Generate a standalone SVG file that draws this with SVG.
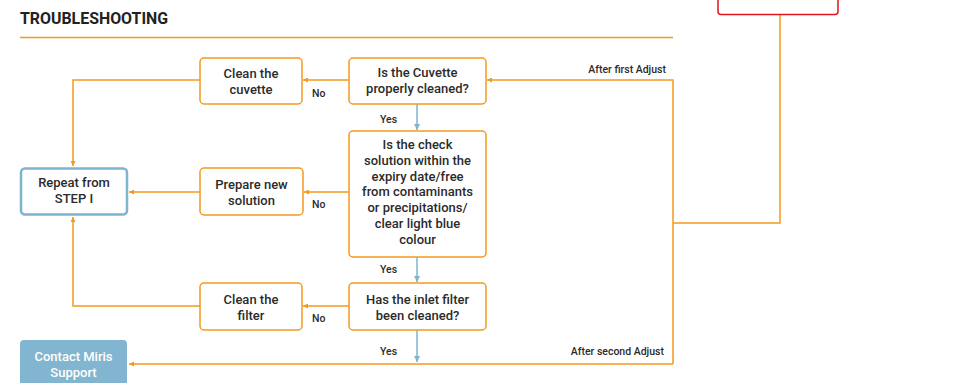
<svg xmlns="http://www.w3.org/2000/svg" width="964" height="383" viewBox="0 0 964 383">
<style>
.box{fill:#fff;stroke:#f39a1e;stroke-width:1.5}
.blue{fill:#fff;stroke:#7fb4cf;stroke-width:2.5}
.t{font-family:Roboto,"Liberation Sans",sans-serif;font-weight:500;font-size:13px;fill:#2b2b2b;text-anchor:middle}
.tw{font-family:Roboto,"Liberation Sans",sans-serif;font-weight:500;font-size:13px;fill:#fff;text-anchor:middle}
.lb{font-family:Roboto,"Liberation Sans",sans-serif;font-weight:500;font-size:10.5px;fill:#2b2b2b}
.o{fill:none;stroke:#f39a1e;stroke-width:1.5}
.b{fill:none;stroke:#7fb4cf;stroke-width:1.5}
</style>
<defs>
<marker id="ao" viewBox="0 0 10 10" refX="10" refY="5" markerWidth="5" markerHeight="5" orient="auto" markerUnits="userSpaceOnUse"><path d="M0,0 L10,5 L0,10 z" fill="#f39a1e"/></marker>
<marker id="ab" viewBox="0 0 10 10" refX="10" refY="5" markerWidth="6" markerHeight="6" orient="auto" markerUnits="userSpaceOnUse"><path d="M0,0 L10,5 L0,10 z" fill="#7fb4cf"/></marker>
</defs>
<rect width="964" height="383" fill="#fff"/>
<text x="20" y="24" font-family="Roboto,'Liberation Sans',sans-serif" font-weight="700" font-size="15.9" fill="#222">TROUBLESHOOTING</text>
<line x1="20" y1="37.5" x2="673" y2="37.5" stroke="#f39a1e" stroke-width="1.3"/>

<g id="connectors">
<path class="o" d="M349,80 H303" marker-end="url(#ao)"/>
<path class="o" d="M200,80 H73 V166" marker-end="url(#ao)"/>
<path class="o" d="M349,192 H304" marker-end="url(#ao)"/>
<path class="o" d="M200,192 H129" marker-end="url(#ao)"/>
<path class="o" d="M349,306 H303" marker-end="url(#ao)"/>
<path class="o" d="M200,306 H73 V217" marker-end="url(#ao)"/>
<path class="o" d="M673,364 V80 H487" marker-end="url(#ao)"/>
<path class="o" d="M673,364 H129" marker-end="url(#ao)"/>
<path class="o" d="M780,15 V223 H673"/>
<path class="b" d="M417,104 V130" marker-end="url(#ab)"/>
<path class="b" d="M417,257 V282" marker-end="url(#ab)"/>
<path class="b" d="M417,330 V362" marker-end="url(#ab)"/>
<text class="lb" x="312" y="97">No</text>
<text class="lb" x="312" y="208">No</text>
<text class="lb" x="312" y="322">No</text>
<text class="lb" x="380" y="123">Yes</text>
<text class="lb" x="380" y="273">Yes</text>
<text class="lb" x="380" y="355">Yes</text>
<text class="lb" x="666" y="73" text-anchor="end">After first Adjust</text>
<text class="lb" x="664" y="355" text-anchor="end">After second Adjust</text>
</g>

<g id="red-box"><rect x="718" y="-10" width="120" height="24.5" rx="3" fill="#fff" stroke="#e3151a" stroke-width="1.5"/></g>

<g id="clean-cuvette"><rect class="box" x="200" y="58" width="102" height="46" rx="4"/>
<text class="t" x="251" y="78">Clean the</text><text class="t" x="251" y="94">cuvette</text></g>

<g id="q-cuvette"><rect class="box" x="349" y="58" width="137" height="46" rx="4"/>
<text class="t" x="417.5" y="77">Is the Cuvette</text><text class="t" x="417.5" y="93">properly cleaned?</text></g>

<g id="repeat"><rect class="blue" x="21" y="168.5" width="106" height="46" rx="4"/>
<text class="t" x="74" y="187">Repeat from</text><text class="t" x="74" y="203">STEP I</text></g>

<g id="prepare"><rect class="box" x="200" y="168" width="103" height="47" rx="4"/>
<text class="t" x="251.5" y="189">Prepare new</text><text class="t" x="251.5" y="205">solution</text></g>

<g id="q-solution"><rect class="box" x="349" y="131" width="137" height="126" rx="4"/>
<text class="t" x="417.5" y="149">Is the check</text>
<text class="t" x="417.5" y="165">solution within the</text>
<text class="t" x="417.5" y="181">expiry date/free</text>
<text class="t" x="417.5" y="196">from contaminants</text>
<text class="t" x="417.5" y="212">or precipitations/</text>
<text class="t" x="417.5" y="228">clear light blue</text>
<text class="t" x="417.5" y="244">colour</text></g>

<g id="clean-filter"><rect class="box" x="200" y="283" width="102" height="47" rx="4"/>
<text class="t" x="251" y="304">Clean the</text><text class="t" x="251" y="320">filter</text></g>

<g id="q-filter"><rect class="box" x="349" y="283" width="137" height="47" rx="4"/>
<text class="t" x="417.5" y="304">Has the inlet filter</text><text class="t" x="417.5" y="320">been cleaned?</text></g>

<g id="contact"><rect x="20" y="340" width="107" height="60" rx="4" fill="#82b5cf"/>
<text class="tw" x="73.5" y="361">Contact Miris</text><text class="tw" x="73.5" y="377">Support</text></g>
</svg>
